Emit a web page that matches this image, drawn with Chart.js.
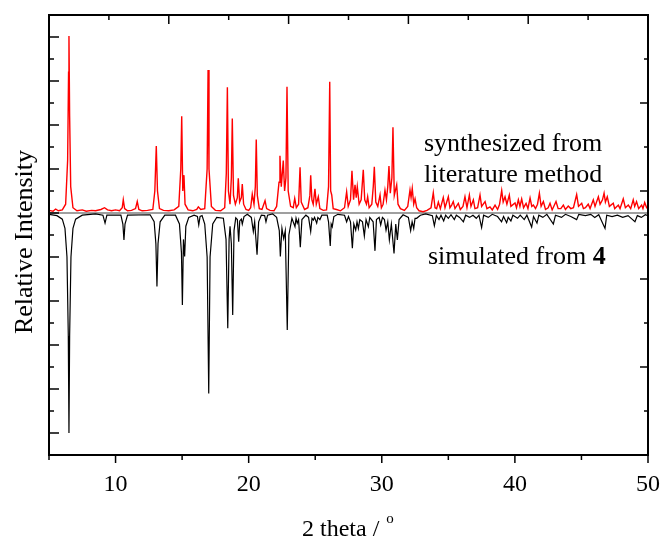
<!DOCTYPE html>
<html><head><meta charset="utf-8">
<script src="https://cdn.jsdelivr.net/npm/chart.js@4/dist/chart.umd.min.js"></script>
<style>html,body{margin:0;padding:0;background:#fff;}canvas{display:block;}</style>
</head><body>
<canvas id="c" width="663" height="539"></canvas>
<script>
// ---- data (2 theta in degrees, intensity in arbitrary units) ----
const xTickLabels = [10, 20, 30, 40, 50];
const xMinorTicks = [5, 15, 25, 35, 45];
const xTopMajorTicks = [14, 23, 32, 41];
const xTopMinorTicks = [9.5, 18.5, 27.5, 36.5, 45.5];
const yLeftMajorTicks = [-5, -4, -3, -2, -1, 0, 1, 2, 3, 4];
const yLeftMinorTicks = [-4.5, -3.5, -2.5, -1.5, -0.5, 0.5, 1.5, 2.5, 3.5];
const yRightMajorTicks = [2.5, 0.5, -1.5, -3.5];
const yRightMinorTicks = [3.5, 1.5, -0.5, -2.5, -4.5];

const seriesNames = ["synthesized from literature method", "simulated from 4"];

const synthX = [5.0,5.3,5.5,5.7,6.0,6.25,6.4,6.47,6.5,6.55,6.63,6.8,7.1,7.5,7.8,8.2,8.5,8.9,9.17,9.4,9.7,10.0,10.3,10.5,10.58,10.68,10.9,11.2,11.5,11.63,11.75,12.0,12.4,12.8,12.95,13.06,13.15,13.3,13.6,14.0,14.4,14.75,14.9,14.97,15.05,15.14,15.22,15.45,15.8,16.1,16.22,16.4,16.7,16.88,16.95,17.02,17.2,17.5,17.9,18.2,18.32,18.4,18.48,18.6,18.7,18.77,18.86,19.0,19.15,19.22,19.32,19.45,19.52,19.62,19.8,20.0,20.15,20.27,20.4,20.5,20.57,20.65,20.8,21.0,21.23,21.35,21.6,21.9,22.1,22.28,22.35,22.45,22.6,22.7,22.8,22.88,22.97,23.15,23.35,23.46,23.58,23.75,23.86,23.95,24.2,24.45,24.6,24.66,24.75,24.85,24.98,25.08,25.23,25.35,25.6,25.85,26.0,26.09,26.16,26.24,26.35,26.6,26.9,27.2,27.36,27.48,27.65,27.76,27.88,27.99,28.08,28.16,28.3,28.45,28.61,28.72,28.85,28.94,29.05,29.25,29.36,29.44,29.55,29.7,29.87,29.97,30.1,30.24,30.35,30.45,30.54,30.64,30.76,30.84,30.94,31.12,31.22,31.4,31.7,31.95,32.12,32.2,32.29,32.4,32.5,32.62,32.8,33.1,33.4,33.7,33.87,34.0,34.12,34.25,34.4,34.62,34.75,35.0,35.12,35.25,35.37,35.5,35.75,35.9,36.1,36.25,36.4,36.58,36.7,36.88,37.0,37.2,37.38,37.5,37.76,37.9,38.13,38.3,38.51,38.7,38.85,39.01,39.12,39.26,39.4,39.58,39.7,40.01,40.12,40.26,40.38,40.51,40.65,40.84,40.98,41.14,41.27,41.39,41.55,41.7,41.84,41.97,42.14,42.3,42.5,42.64,42.8,43.09,43.25,43.45,43.64,43.8,44.01,44.2,44.4,44.64,44.78,45.02,45.15,45.3,45.51,45.65,45.89,46.02,46.27,46.4,46.58,46.7,46.8,46.94,47.1,47.39,47.5,47.77,47.9,48.14,48.3,48.52,48.7,48.89,49.0,49.14,49.3,49.52,49.62,49.75,49.9,50.0];
const synthY = [0.06,0.04,0.09,0.05,0.07,0.2,1.2,3.2,4.02,2.2,0.6,0.12,0.05,0.07,0.04,0.06,0.05,0.08,0.12,0.07,0.05,0.07,0.05,0.12,0.3,0.1,0.05,0.06,0.1,0.26,0.08,0.05,0.06,0.08,0.5,1.52,0.5,0.1,0.06,0.05,0.07,0.15,1.0,2.2,0.5,0.86,0.2,0.07,0.05,0.08,0.14,0.08,0.1,1.0,3.25,1.0,0.15,0.06,0.05,0.12,0.9,2.86,0.5,0.2,0.8,2.15,0.4,0.2,0.35,0.79,0.25,0.35,0.66,0.2,0.08,0.06,0.12,0.43,0.2,0.6,1.67,0.4,0.1,0.08,0.28,0.1,0.06,0.05,0.15,0.7,1.3,0.6,1.19,0.5,0.8,2.87,0.5,0.15,0.12,0.33,0.12,0.2,1.04,0.25,0.08,0.12,0.4,0.86,0.3,0.2,0.55,0.2,0.37,0.1,0.06,0.07,0.6,2.98,0.5,0.41,0.1,0.08,0.05,0.12,0.48,0.15,0.3,0.96,0.3,0.64,0.35,0.6,0.2,0.3,0.98,0.3,0.2,0.37,0.12,0.2,0.6,1.05,0.25,0.15,0.41,0.12,0.2,0.52,0.3,0.6,1.07,0.45,0.8,1.95,0.4,0.64,0.2,0.1,0.06,0.15,0.52,0.35,0.56,0.2,0.32,0.12,0.05,0.03,0.06,0.12,0.46,0.12,0.1,0.25,0.1,0.35,0.12,0.37,0.12,0.18,0.26,0.1,0.22,0.08,0.15,0.37,0.12,0.41,0.15,0.3,0.1,0.12,0.41,0.15,0.26,0.1,0.14,0.07,0.18,0.08,0.2,0.51,0.25,0.37,0.2,0.41,0.15,0.23,0.12,0.3,0.15,0.32,0.12,0.22,0.1,0.34,0.15,0.18,0.1,0.2,0.45,0.15,0.26,0.08,0.12,0.22,0.07,0.26,0.1,0.1,0.18,0.08,0.16,0.1,0.12,0.42,0.15,0.22,0.1,0.12,0.2,0.1,0.3,0.15,0.37,0.2,0.3,0.45,0.25,0.37,0.15,0.22,0.1,0.18,0.1,0.32,0.12,0.18,0.1,0.3,0.15,0.26,0.1,0.18,0.1,0.24,0.12,0.1];

const simX = [5.0,5.6,6.0,6.2,6.35,6.45,6.5,6.55,6.65,6.8,7.0,7.5,8.5,9.05,9.21,9.35,10.4,10.55,10.63,10.71,10.9,12.6,12.9,13.03,13.11,13.19,13.35,13.7,14.5,14.8,14.95,15.02,15.1,15.19,15.28,15.5,15.9,16.15,16.25,16.35,16.5,16.7,16.88,17.0,17.1,17.3,17.6,18.1,18.3,18.43,18.53,18.6,18.7,18.8,18.9,19.03,19.15,19.25,19.33,19.45,19.52,19.65,19.9,20.2,20.35,20.45,20.63,20.75,20.95,21.2,21.3,21.42,21.8,22.1,22.3,22.38,22.5,22.63,22.75,22.9,23.02,23.25,23.48,23.56,23.65,23.75,23.88,24.0,24.3,24.5,24.66,24.76,24.86,24.95,25.11,25.2,25.35,25.5,25.9,26.0,26.13,26.2,26.28,26.4,26.7,27.2,27.36,27.5,27.65,27.79,27.9,28.04,28.14,28.24,28.35,28.55,28.69,28.82,28.99,29.1,29.35,29.49,29.6,29.8,29.92,30.05,30.2,30.32,30.45,30.57,30.72,30.92,31.05,31.17,31.3,31.6,32.0,32.17,32.28,32.4,32.5,32.62,32.9,33.3,33.8,33.95,34.1,34.3,34.45,34.65,34.8,35.0,35.2,35.45,35.6,35.85,36.13,36.3,36.6,36.85,37.1,37.3,37.5,37.65,38.0,38.3,38.7,39.0,39.15,39.38,39.5,39.7,39.85,40.2,40.4,40.7,40.9,41.26,41.4,41.66,41.8,42.1,42.4,42.89,43.05,43.5,43.8,44.2,44.64,44.8,45.3,45.7,46.0,46.3,46.77,46.9,47.3,47.7,48.1,48.5,48.8,49.02,49.2,49.5,49.8,50.0];
const simY = [-0.03,-0.06,-0.14,-0.35,-1.0,-2.8,-5.0,-2.8,-1.0,-0.35,-0.14,-0.05,-0.02,-0.05,-0.23,-0.05,-0.05,-0.25,-0.61,-0.25,-0.05,-0.04,-0.2,-0.7,-1.67,-0.7,-0.2,-0.05,-0.05,-0.25,-0.9,-2.09,-0.6,-0.99,-0.3,-0.1,-0.05,-0.08,-0.27,-0.08,-0.06,-0.25,-1.0,-4.1,-1.0,-0.25,-0.1,-0.12,-0.6,-2.62,-0.6,-0.3,-0.7,-2.32,-0.4,-0.11,-0.15,-0.65,-0.18,-0.14,-0.25,-0.08,-0.03,-0.1,-0.42,-0.2,-0.95,-0.2,-0.05,-0.06,-0.2,-0.05,-0.02,-0.1,-0.4,-0.99,-0.35,-0.58,-0.4,-2.66,-0.5,-0.12,-0.31,-0.12,-0.23,-0.15,-0.78,-0.15,-0.05,-0.1,-0.42,-0.12,-0.16,-0.1,-0.23,-0.1,-0.15,-0.05,-0.05,-0.2,-0.75,-0.25,-0.31,-0.08,-0.03,-0.05,-0.2,-0.08,-0.2,-0.8,-0.25,-0.39,-0.2,-0.35,-0.15,-0.2,-0.52,-0.15,-0.31,-0.1,-0.2,-0.86,-0.15,-0.1,-0.27,-0.1,-0.15,-0.39,-0.2,-0.61,-0.25,-0.92,-0.25,-0.61,-0.15,-0.04,-0.1,-0.4,-0.2,-0.35,-0.12,-0.12,-0.05,-0.02,-0.06,-0.29,-0.06,-0.15,-0.05,-0.18,-0.05,-0.12,-0.04,-0.15,-0.05,-0.1,-0.2,-0.05,-0.1,-0.05,-0.12,-0.05,-0.33,-0.05,-0.1,-0.03,-0.08,-0.2,-0.08,-0.22,-0.1,-0.18,-0.05,-0.12,-0.05,-0.15,-0.05,-0.32,-0.08,-0.23,-0.05,-0.1,-0.03,-0.25,-0.05,-0.1,-0.03,-0.08,-0.15,-0.03,-0.06,-0.03,-0.1,-0.04,-0.35,-0.05,-0.08,-0.05,-0.1,-0.06,-0.14,-0.2,-0.06,-0.1,-0.04,-0.06];

const toPoints = (xs, ys) => xs.map((x, i) => ({x: x, y: ys[i]}));

const SERIF = "'Liberation Serif', 'Times New Roman', serif";

const decor = {
  id: 'decor',
  beforeDatasetsDraw(chart) {
    const {ctx, chartArea: a, scales: {y}} = chart;
    const y0 = y.getPixelForValue(0);
    ctx.save();
    ctx.strokeStyle = '#7f7f7f';
    ctx.lineWidth = 1.5;
    ctx.beginPath(); ctx.moveTo(a.left, y0); ctx.lineTo(a.right, y0); ctx.stroke();
    ctx.restore();
  },
  afterDatasetsDraw(chart) {
    const {ctx, chartArea: a, scales: {x, y}} = chart;
    ctx.save();
    ctx.strokeStyle = '#000';
    ctx.lineWidth = 2;
    ctx.strokeRect(a.left, a.top, a.right - a.left, a.bottom - a.top);
    ctx.lineWidth = 1.5;
    const line = (x1, y1, x2, y2) => { ctx.beginPath(); ctx.moveTo(x1, y1); ctx.lineTo(x2, y2); ctx.stroke(); };
    // bottom ticks (outward)
    xTickLabels.forEach(v => { const p = x.getPixelForValue(v); line(p, a.bottom, p, a.bottom + 8); });
    xMinorTicks.forEach(v => { const p = x.getPixelForValue(v); line(p, a.bottom, p, a.bottom + 5); });
    // top ticks (inward)
    xTopMajorTicks.forEach(v => { const p = x.getPixelForValue(v); line(p, a.top, p, a.top + 9); });
    xTopMinorTicks.forEach(v => { const p = x.getPixelForValue(v); line(p, a.top, p, a.top + 5); });
    // left ticks (inward)
    yLeftMajorTicks.forEach(v => { const p = y.getPixelForValue(v); line(a.left, p, a.left + 10, p); });
    yLeftMinorTicks.forEach(v => { const p = y.getPixelForValue(v); line(a.left, p, a.left + 5, p); });
    // right ticks (inward)
    yRightMajorTicks.forEach(v => { const p = y.getPixelForValue(v); line(a.right, p, a.right - 8, p); });
    yRightMinorTicks.forEach(v => { const p = y.getPixelForValue(v); line(a.right, p, a.right - 4, p); });

    ctx.fillStyle = '#000';
    // y axis title
    ctx.save();
    ctx.translate(32, (a.top + a.bottom) / 2 + 7);
    ctx.rotate(-Math.PI / 2);
    ctx.font = '26px ' + SERIF;
    ctx.textAlign = 'center';
    ctx.textBaseline = 'alphabetic';
    ctx.fillText('Relative Intensity', 0, 0);
    ctx.restore();

    // x axis title with superscript o
    ctx.font = '24px ' + SERIF;
    ctx.textAlign = 'left';
    ctx.textBaseline = 'alphabetic';
    const t1 = '2 theta / ';
    const w1 = ctx.measureText(t1).width;
    const tx = 302;
    ctx.fillText(t1, tx, 536);
    ctx.font = '15px ' + SERIF;
    ctx.fillText('o', tx + w1 + 1, 523);

    // series labels
    ctx.font = '26px ' + SERIF;
    ctx.fillText('synthesized from', 424, 151);
    ctx.fillText('literature method', 424, 182);
    const s = 'simulated from ';
    ctx.fillText(s, 428, 264);
    const ws = ctx.measureText(s).width;
    ctx.font = 'bold 26px ' + SERIF;
    ctx.fillText('4', 428 + ws, 264);
    ctx.restore();
  }
};

new Chart(document.getElementById('c'), {
  type: 'line',
  data: {
    datasets: [
      {label: seriesNames[1], data: toPoints(simX, simY), borderColor: '#000000', borderWidth: 1.2, pointRadius: 0, tension: 0, fill: false},
      {label: seriesNames[0], data: toPoints(synthX, synthY), borderColor: '#ff0000', borderWidth: 1.4, pointRadius: 0, tension: 0, fill: false}
    ]
  },
  options: {
    responsive: false,
    animation: false,
    devicePixelRatio: 1,
    layout: {padding: {left: 49, right: 15, top: 15, bottom: 0}},
    plugins: {legend: {display: false}, tooltip: {enabled: false}},
    scales: {
      x: {
        type: 'linear', min: 5, max: 50, position: 'bottom',
        afterBuildTicks: s => { s.ticks = xTickLabels.map(v => ({value: v})); },
        afterFit: s => { s.height = 84; s.paddingLeft = 0; s.paddingRight = 0; },
        grid: {display: false, drawTicks: false},
        border: {display: false},
        ticks: {font: {family: SERIF, size: 24}, color: '#000', padding: 15, maxRotation: 0, autoSkip: false}
      },
      y: {type: 'linear', min: -5.5, max: 4.5, display: false}
    }
  },
  plugins: [decor]
});
</script>
</body></html>
